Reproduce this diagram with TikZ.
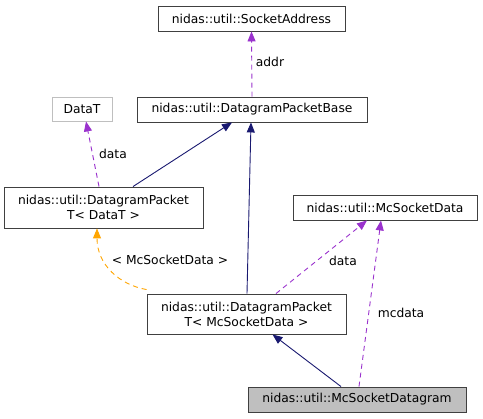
\documentclass[tikz,border=0pt]{standalone}
\usepackage{fontspec}
\setmainfont{DejaVu Sans}
\usetikzlibrary{arrows.meta,calc}
\definecolor{navy}{HTML}{191970}
\definecolor{orch}{HTML}{9A32CD}
\definecolor{orng}{HTML}{FFA500}
\definecolor{boxgray}{HTML}{BFBFBF}
\definecolor{boxedge}{HTML}{404040}
\begin{document}
\begin{tikzpicture}[x=1pt,y=-1pt,
  every node/.style={font=\fontsize{12.3}{15}\selectfont},
  cls/.style={draw=boxedge,line width=0.9pt,fill=white,inner sep=0pt,align=center,minimum height=25pt},
  ext/.style={cls,draw=boxgray},
  cur/.style={cls,fill=boxgray},
  inh/.style={draw=navy,line width=0.9pt,-{Triangle[length=10pt,width=8pt]}},
  use/.style={draw=orch,line width=0.9pt,dash pattern=on 5pt off 4pt,-{Triangle[length=10pt,width=8pt]}},
  tmpl/.style={draw=orng,line width=0.9pt,dash pattern=on 5pt off 4pt,-{Triangle[length=10pt,width=8pt]}},
  lbl/.style={inner sep=0pt}]
\useasboundingbox (0,0) rectangle (483,419);
\node[cls,minimum width=187pt] (sa) at (251.5,18.5) {nidas::util::SocketAddress};
\node[cls,minimum width=230pt] (dpb) at (252,109.5) {nidas::util::DatagramPacketBase};
\node[ext,minimum width=60pt,minimum height=24pt] (datat) at (82,109) {DataT};
\node[cls,minimum width=199pt,minimum height=41pt] (dpd) at (103.5,207.5) {nidas::util::DatagramPacket\\T\textless{} DataT \textgreater};
\node[cls,minimum width=184pt] (msd) at (385,207.5) {nidas::util::McSocketData};
\node[cls,minimum width=199pt,minimum height=40pt] (dpm) at (246.5,314) {nidas::util::DatagramPacket\\T\textless{} McSocketData \textgreater};
\node[cur,minimum width=218pt] (mdg) at (357,399.5) {nidas::util::McSocketDatagram};

\draw[use] (dpb.north) -- (sa.south);
\node[lbl] (laddr) at (270,62) {addr};
\draw[inh] ([xshift=29.5pt]dpd.north) -- ([xshift=-20pt]dpb.south);
\draw[inh] ([xshift=0.5pt]dpm.north) -- ([xshift=-1pt]dpb.south);
\draw[use] ([xshift=-4.5pt]dpd.north) -- ([xshift=4pt]datat.south);
\node[lbl] (ldata1) at (113,153.5) {data};
\coordinate (os) at ([yshift=4pt]dpm.north west);
\draw[tmpl] (os) .. controls (120,285) and (97,265) .. ([xshift=-6.5pt]dpd.south);
\node[lbl] (ltmpl) at (170,260) {\textless{} McSocketData \textgreater};
\draw[use] ([xshift=29.5pt]dpm.north) -- ([xshift=-18pt]msd.south);
\node[lbl] (ldata2) at (343,261) {data};
\draw[use] ([xshift=2pt]mdg.north) -- ([xshift=-4pt]msd.south);
\node[lbl] (lmc) at (401,313) {mcdata};
\draw[inh] ([xshift=-16pt]mdg.north) -- ([xshift=26pt]dpm.south);
\end{tikzpicture}
\end{document}
